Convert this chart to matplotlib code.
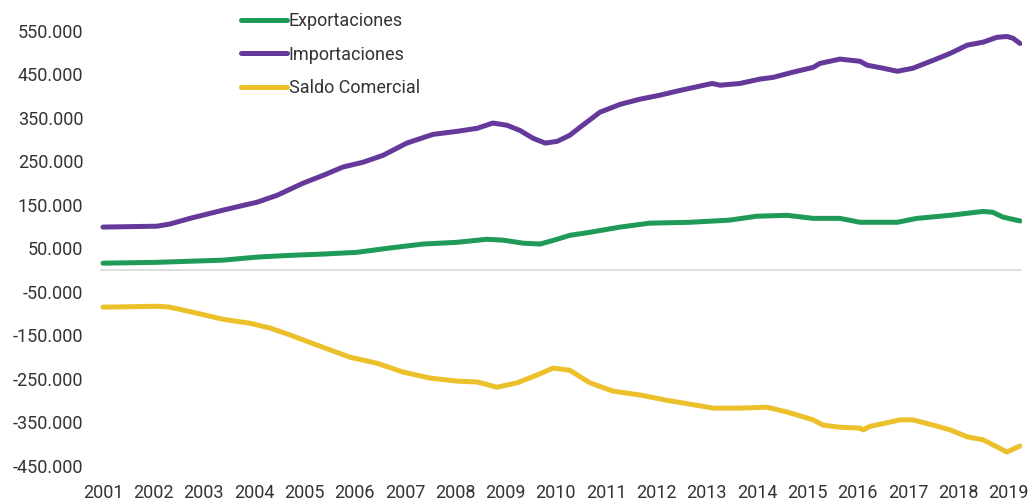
import matplotlib
matplotlib.use("Agg")
import matplotlib.pyplot as plt
from matplotlib.ticker import FuncFormatter

# valores (millones de USD, suma movil 12 meses)
imp_x = [2001.00, 2002.07, 2002.33, 2002.73, 2003.39, 2003.72, 2004.06, 2004.46, 2004.98,
         2005.38, 2005.77, 2006.17, 2006.57, 2007.04, 2007.56, 2008.04, 2008.44, 2008.75,
         2009.03, 2009.29, 2009.55, 2009.79, 2010.03, 2010.28, 2010.48, 2010.88, 2011.28,
         2011.68, 2012.07, 2012.47, 2012.87, 2013.11, 2013.27, 2013.66, 2014.06, 2014.32,
         2014.72, 2015.12, 2015.25, 2015.65, 2016.05, 2016.19, 2016.51, 2016.79, 2017.10,
         2017.50, 2017.84, 2018.18, 2018.50, 2018.77, 2018.97, 2019.09, 2019.23]
imp_y = [99000, 101000, 106000, 119000, 138000, 147000, 156000, 172000, 200000,
         218000, 237000, 248000, 264000, 292000, 312000, 319000, 326000, 338000,
         333000, 321000, 303000, 292000, 296000, 310000, 328000, 363000, 381000,
         393000, 402000, 413000, 423000, 429000, 425000, 429000, 439000, 443000,
         455000, 466000, 475000, 485000, 480000, 471000, 464000, 457000, 464000,
         482000, 498000, 517000, 524000, 535000, 537000, 533000, 521000]

exp_x = [2001.00, 2002.07, 2003.39, 2004.06, 2004.72, 2005.38, 2006.05, 2006.71, 2007.36,
         2008.04, 2008.63, 2008.95, 2009.35, 2009.69, 2010.03, 2010.28, 2010.68, 2011.28,
         2011.87, 2012.67, 2013.46, 2014.00, 2014.60, 2015.12, 2015.65, 2016.05, 2016.79,
         2017.18, 2017.84, 2018.50, 2018.69, 2018.89, 2019.23]
exp_y = [16000, 18000, 23000, 30000, 34000, 37000, 41000, 51000, 60000,
         64000, 71000, 69000, 62000, 60000, 71000, 80000, 87000, 99000,
         108000, 110000, 115000, 124000, 126000, 119000, 119000, 110000, 110000,
         119000, 126000, 135000, 133000, 122000, 113000]

sal_x = [2001.00, 2002.07, 2002.33, 2002.87, 2003.39, 2003.92, 2004.32, 2004.72, 2005.25,
         2005.91, 2006.45, 2006.96, 2007.50, 2008.04, 2008.44, 2008.83, 2009.23, 2009.63,
         2009.95, 2010.28, 2010.68, 2011.14, 2011.68, 2012.21, 2012.67, 2013.13, 2013.66,
         2014.20, 2014.60, 2015.12, 2015.31, 2015.65, 2016.05, 2016.11, 2016.25, 2016.85,
         2017.10, 2017.50, 2017.84, 2018.18, 2018.50, 2018.77, 2018.97, 2019.23]
sal_y = [-85000, -83000, -85000, -99000, -113000, -122000, -133000, -149000, -172000,
         -200000, -214000, -234000, -248000, -255000, -257000, -269000, -259000, -241000,
         -225000, -230000, -259000, -278000, -287000, -299000, -308000, -317000, -317000,
         -315000, -326000, -344000, -356000, -361000, -363000, -367000, -359000, -344000,
         -344000, -356000, -367000, -383000, -390000, -406000, -418000, -404000]

years = list(range(2001, 2020))
yticks = [-450000, -350000, -250000, -150000, -50000, 50000, 150000, 250000, 350000, 450000, 550000]

plt.rcParams['font.family'] = ['Roboto', 'DejaVu Sans']

fig = plt.figure(figsize=(10.33, 5.03), dpi=100)
ax = fig.add_axes([100 / 1033, 0.0563, 922 / 1033, 0.9257])

ax.axhline(0, color='#d9d9d9', lw=1.2, zorder=1)
ax.plot(exp_x, exp_y, color='#1f9a57', lw=3.6, label='Exportaciones', solid_capstyle='round')
ax.plot(imp_x, imp_y, color='#65399a', lw=3.6, label='Importaciones', solid_capstyle='round')
ax.plot(sal_x, sal_y, color='#ecc02a', lw=3.6, label='Saldo Comercial', solid_capstyle='round')

ax.set_xlim(2000.94, 2019.27)
ax.set_ylim(-470000, 600000)
ax.set_xticks(years)
ax.set_yticks(yticks)
ax.yaxis.set_major_formatter(FuncFormatter(lambda v, p: f"{v:,.0f}".replace(',', '.')))
ax.tick_params(length=0, labelsize=13, colors='#333333')
ax.tick_params(axis='y', pad=12)
ax.tick_params(axis='x', pad=7)
for s in ax.spines.values():
    s.set_visible(False)

ax.legend(loc='upper left', bbox_to_anchor=(236 / 1033, 1 - 7 / 503), bbox_transform=fig.transFigure,
          frameon=False, fontsize=13, handlelength=2.5, handletextpad=0.12, labelspacing=0.85,
          borderaxespad=0, borderpad=0.3, labelcolor='#333333')

fig.savefig('out.png', dpi=100)
